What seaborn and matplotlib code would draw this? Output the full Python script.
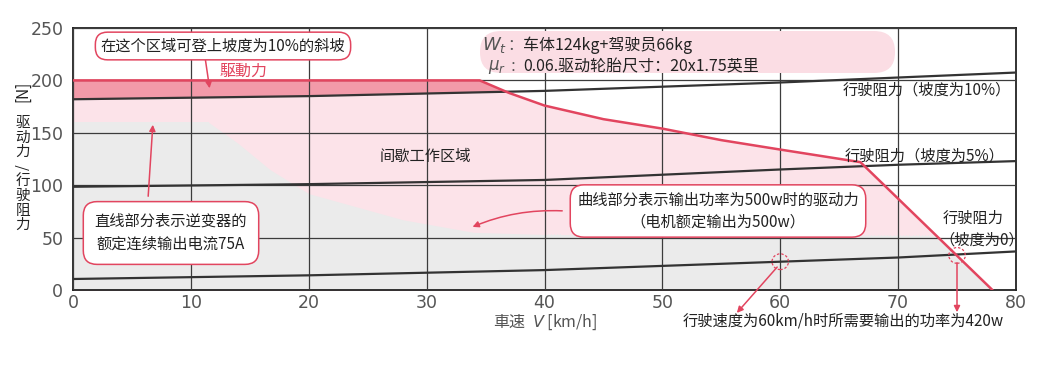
import matplotlib
matplotlib.use("Agg")
import matplotlib.pyplot as plt
import seaborn as sns
import numpy as np
from matplotlib.patches import FancyBboxPatch, Ellipse

# ---------------- data ----------------
speed_ticks = [0, 10, 20, 30, 40, 50, 60, 70, 80]
force_ticks = [0, 50, 100, 150, 200, 250]

drive_v = [0, 34.5, 37, 40, 45, 50, 55, 60, 66.8, 78]
drive_f = [200, 200, 188, 176, 163, 154, 143, 134, 122, 0]

res10_v = [0, 20, 40, 60, 80]
res10_f = [182, 185, 190, 198, 207.5]

res5_v = [0, 20, 40, 60, 70, 80]
res5_f = [98.5, 101, 105, 115, 119.5, 123]

res0_v = [0, 20, 40, 60, 70, 80]
res0_f = [10.5, 14, 19, 27, 31, 36.8]

grey_v = [0, 11.5, 14, 16.7, 20, 28, 34, 40, 73.2, 78]
grey_f = [160, 160, 140, 115, 92, 67, 55, 53, 52, 0]

# ---------------- style ----------------
sns.set_theme(style="white")
plt.rcParams['font.family'] = ['Noto Sans CJK SC', 'DejaVu Sans']
plt.rcParams['axes.unicode_minus'] = False

RED = '#e2455f'
DARK_PINK = '#f29aa9'
LIGHT_PINK = '#fce3e9'
GREY = '#ebebeb'
TXT = '#222222'
AXTXT = '#555555'

W, H = 1051, 367
fig = plt.figure(figsize=(W / 100, H / 100), dpi=100)
ax = fig.add_axes([73 / W, 1 - 290 / H, (1016 - 73) / W, (290 - 28) / H])


def px(x, y):
    return x / W, 1 - y / H


# fills
dark = ax.fill_between(drive_v, 0, drive_f, color=DARK_PINK, lw=0, zorder=0.5)
clip_path = dark.get_paths()[0]
light = ax.fill_between(res10_v, 0, res10_f, color=LIGHT_PINK, lw=0, zorder=0.6)
light.set_clip_path(clip_path, ax.transData)
grey = ax.fill_between(grey_v, 0, grey_f, color=GREY, lw=0, zorder=0.7)
grey.set_clip_path(clip_path, ax.transData)

# lines
sns.lineplot(x=res10_v, y=res10_f, ax=ax, color='#333333', lw=1.6, zorder=3)
sns.lineplot(x=res5_v, y=res5_f, ax=ax, color='#333333', lw=1.6, zorder=3)
sns.lineplot(x=res0_v, y=res0_f, ax=ax, color='#333333', lw=1.6, zorder=3)
sns.lineplot(x=drive_v, y=drive_f, ax=ax, color=RED, lw=1.8, zorder=3.5, sort=False)

ax.set_xlim(0, 80)
ax.set_ylim(0, 250)
ax.set_xticks(speed_ticks)
ax.set_yticks(force_ticks)
ax.set_xticklabels([str(t) for t in speed_ticks])
ax.set_yticklabels([str(t) for t in force_ticks])
ax.tick_params(axis='both', length=0, labelsize=12.5, colors=AXTXT)
ax.tick_params(axis='x', pad=3)
ax.tick_params(axis='y', pad=7)
for lab in ax.get_xticklabels() + ax.get_yticklabels():
    lab.set_family(['DejaVu Sans'])
ax.set_axisbelow(False)
ax.grid(True, color='#3c3c3c', lw=0.9)
for s in ax.spines.values():
    s.set_color('#222222')
    s.set_linewidth(1.3)

# axis labels
fig.text(*px(545, 322), "車速  $V$ [km/h]", ha='center', va='center',
         fontsize=11.5, color=AXTXT, family=['Noto Sans CJK JP', 'DejaVu Sans'])
fig.text(*px(23, 91), "[N]", rotation=90, ha='center', va='center',
         fontsize=11, color=TXT)
ylab_chars = ['驱', '动', '力', '/', '行', '驶', '阻', '力']
for i, ch in enumerate(ylab_chars):
    fig.text(*px(23, 123 + 14.6 * i), ch, ha='center', va='center',
             fontsize=10.5, color=TXT, rotation=90 if ch == '/' else 0)

# info box (top)
box = FancyBboxPatch(px(480, 73), (895 - 480) / W, (73 - 31) / H,
                     boxstyle="round,pad=0,rounding_size=0.02",
                     transform=fig.transFigure, fc='#fbdde4', ec='none',
                     zorder=5, mutation_aspect=2.8)
fig.patches.append(box)
fig.text(*px(482, 45), "$W_t$", ha='left', va='center', fontsize=13, color='#555555', zorder=6)
fig.text(*px(507, 45), "：", ha='left', va='center', fontsize=11, color='#555555', zorder=6)
fig.text(*px(523, 45), "车体124kg+驾驶员66kg", ha='left', va='center', fontsize=11.5, color=TXT, zorder=6)
fig.text(*px(488, 67), "$\\mu_r$", ha='left', va='center', fontsize=12, color='#555555', zorder=6)
fig.text(*px(510, 67), "：", ha='left', va='center', fontsize=10, color='#555555', zorder=6)
fig.text(*px(523, 67), "0.06.驱动轮胎尺寸：20x1.75英里", ha='left', va='center', fontsize=11.5, color=TXT, zorder=6)

# rounded annotation boxes
bbox_kw = dict(boxstyle='round,pad=0.35,rounding_size=0.8', fc='white', ec=RED, lw=1.1)
fig.text(*px(223, 46), "在这个区域可登上坡度为10%的斜坡", ha='center', va='center',
         fontsize=11, color=TXT, bbox=bbox_kw, zorder=7)
fig.text(*px(171, 233), "直线部分表示逆变器的\n额定连续输出电流75A", ha='center', va='center',
         fontsize=11, color=TXT, linespacing=1.45,
         bbox=dict(boxstyle='round,pad=0.75,rounding_size=0.9', fc='white', ec=RED, lw=1.1), zorder=7)
fig.text(*px(718, 211), "曲线部分表示输出功率为500w时的驱动力\n（电机额定输出为500w）", ha='center', va='center',
         fontsize=11, color=TXT, linespacing=1.35,
         bbox=dict(boxstyle='round,pad=0.45,rounding_size=0.9', fc='white', ec=RED, lw=1.1), zorder=7)

# arrows
arrow_kw = dict(arrowstyle='-|>', color=RED, lw=1.1, mutation_scale=9)
ax.annotate("", xy=px(210, 91), xytext=px(205, 57), xycoords='figure fraction',
            textcoords='figure fraction', arrowprops=arrow_kw, zorder=8)
ax.annotate("", xy=px(153, 122), xytext=px(148, 199), xycoords='figure fraction',
            textcoords='figure fraction', arrowprops=arrow_kw, zorder=8)
ax.annotate("", xy=px(470, 228), xytext=px(565, 211), xycoords='figure fraction',
            textcoords='figure fraction',
            arrowprops=dict(arrow_kw, connectionstyle='arc3,rad=0.12'), zorder=8)
ax.annotate("", xy=px(735, 315), xytext=px(779, 265), xycoords='figure fraction',
            textcoords='figure fraction', arrowprops=arrow_kw, zorder=8)
ax.annotate("", xy=px(957, 315), xytext=px(957, 260), xycoords='figure fraction',
            textcoords='figure fraction', arrowprops=arrow_kw, zorder=8)

# dashed circles
for cx, cy in [(60, 27), (75, 33)]:
    ax.add_patch(Ellipse((cx, cy), 1.4, 15, fill=False, ec=RED, lw=0.9, ls=(0, (2, 1.5)), zorder=6))

# in-plot texts
fig.text(*px(243, 71), "駆動力", ha='center', va='center', fontsize=11.5, color=RED,
         family=['Noto Sans CJK JP', 'DejaVu Sans'])
fig.text(*px(425, 156), "间歇工作区域", ha='center', va='center', fontsize=11, color=TXT)
fig.text(*px(1011, 90), "行驶阻力（坡度为10%）", ha='right', va='center', fontsize=11, color=TXT)
fig.text(*px(1005, 156), "行驶阻力（坡度为5%）", ha='right', va='center', fontsize=11, color=TXT)
fig.text(*px(943, 218), "行驶阻力", ha='left', va='center', fontsize=11, color=TXT)
fig.text(*px(939, 240), "（坡度为0）", ha='left', va='center', fontsize=11, color=TXT)
fig.text(*px(683, 321), "行驶速度为60km/h时所需要输出的功率为420w", ha='left', va='center',
         fontsize=11, color=TXT)

fig.savefig("out.png", dpi=100, facecolor='white')
